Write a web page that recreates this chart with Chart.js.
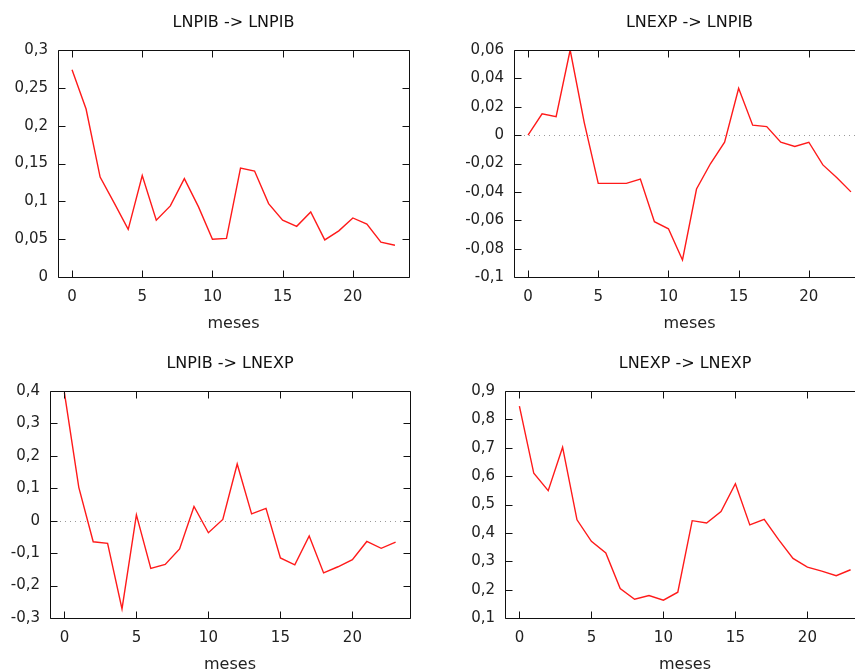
<!DOCTYPE html>
<html>
<head>
<meta charset="utf-8">
<script src="https://cdn.jsdelivr.net/npm/chart.js@4.4.0/dist/chart.umd.min.js"></script>
<style>
  body { margin: 0; width: 855px; height: 670px; overflow: hidden; background: #fff; position: relative; }
  canvas { position: absolute; }
</style>
</head>
<body>
<canvas id="c1" width="430" height="335" style="left:0px;top:0px"></canvas>
<canvas id="c2" width="430" height="335" style="left:456px;top:0px"></canvas>
<canvas id="c3" width="430" height="335" style="left:0px;top:341px"></canvas>
<canvas id="c4" width="438" height="335" style="left:447px;top:341px"></canvas>
<script>
let meses = [0, 1, 2, 3, 4, 5, 6, 7, 8, 9, 10, 11, 12, 13, 14, 15, 16, 17, 18, 19, 20, 21, 22, 23];

let pibPib = [0.274, 0.222, 0.132, 0.098, 0.063, 0.134, 0.075, 0.094, 0.130, 0.093, 0.050, 0.051,
  0.144, 0.140, 0.097, 0.075, 0.067, 0.086, 0.049, 0.061, 0.078, 0.070, 0.046, 0.042];
let expPib = [0.0, 0.015, 0.013, 0.060, 0.009, -0.034, -0.034, -0.034, -0.031, -0.061, -0.066, -0.088,
  -0.038, -0.020, -0.005, 0.033, 0.007, 0.006, -0.005, -0.008, -0.005, -0.021, -0.030, -0.040];
let pibExp = [0.395, 0.103, -0.065, -0.070, -0.272, 0.018, -0.147, -0.135, -0.087, 0.044, -0.037, 0.004,
  0.175, 0.021, 0.038, -0.115, -0.136, -0.047, -0.161, -0.142, -0.120, -0.064, -0.085, -0.066];
let expExp = [0.847, 0.610, 0.549, 0.702, 0.446, 0.370, 0.329, 0.204, 0.166, 0.179, 0.163, 0.191,
  0.443, 0.435, 0.475, 0.573, 0.428, 0.448, 0.376, 0.310, 0.279, 0.265, 0.249, 0.270];

let xTicks = [0, 5, 10, 15, 20];
let ticksPibPib = [0, 0.05, 0.1, 0.15, 0.2, 0.25, 0.3];
let ticksExpPib = [-0.1, -0.08, -0.06, -0.04, -0.02, 0, 0.02, 0.04, 0.06];
let ticksPibExp = [-0.3, -0.2, -0.1, 0, 0.1, 0.2, 0.3, 0.4];
let ticksExpExp = [0.1, 0.2, 0.3, 0.4, 0.5, 0.6, 0.7, 0.8, 0.9];

const fontFam = "'DejaVu Sans', Verdana, sans-serif";
const TICK = 7;

// gnuplot-like frame with inward ticks, plus dotted zero line
let frame = {
  id: "frame",
  beforeDatasetsDraw(chart, args, opts) {
    if (!opts.zero) return;
    const ctx = chart.ctx;
    const a = chart.chartArea;
    const y0 = Math.round(chart.scales.y.getPixelForValue(0)) + 0.5;
    ctx.save();
    ctx.strokeStyle = "#999";
    ctx.lineWidth = 1;
    ctx.setLineDash([1, 4]);
    ctx.beginPath();
    ctx.moveTo(a.left, y0);
    ctx.lineTo(a.right, y0);
    ctx.stroke();
    ctx.restore();
  },
  afterDatasetsDraw(chart) {
    const ctx = chart.ctx;
    const a = chart.chartArea;
    const xs = chart.scales.x;
    const ys = chart.scales.y;
    const l = Math.round(a.left) + 0.5, r = Math.round(a.right) + 0.5;
    const t = Math.round(a.top) + 0.5, b = Math.round(a.bottom) + 0.5;
    ctx.save();
    ctx.strokeStyle = "#111";
    ctx.lineWidth = 1;
    ctx.beginPath();
    ctx.rect(l, t, r - l, b - t);
    xs.ticks.forEach((tk) => {
      const px = Math.round(xs.getPixelForValue(tk.value)) + 0.5;
      ctx.moveTo(px, b); ctx.lineTo(px, b - TICK);
      ctx.moveTo(px, t); ctx.lineTo(px, t + TICK);
    });
    ys.ticks.forEach((tk) => {
      const py = Math.round(ys.getPixelForValue(tk.value)) + 0.5;
      ctx.moveTo(l, py); ctx.lineTo(l + TICK, py);
      ctx.moveTo(r, py); ctx.lineTo(r - TICK, py);
    });
    ctx.stroke();
    ctx.restore();
  },
};

function makeChart(id, values, yTicks, title, yWidth, padRight, zero) {
  let points = meses.map((m, i) => ({ x: m, y: values[i] }));
  new Chart(document.getElementById(id), {
    type: "line",
    data: {
      datasets: [
        {
          data: points,
          borderColor: "#ff1a1a",
          borderWidth: 1.4,
          pointRadius: 0,
          tension: 0,
          fill: false,
        },
      ],
    },
    plugins: [frame],
    options: {
      responsive: false,
      animation: false,
      layout: { padding: { left: 0, right: padRight, top: 0, bottom: 0 } },
      plugins: {
        legend: { display: false },
        tooltip: { enabled: false },
        frame: { zero: zero },
        title: {
          display: true,
          text: title,
          fullSize: false,
          color: "#111",
          font: { family: fontFam, size: 16, weight: "normal", lineHeight: 1.2 },
          padding: { top: 13, bottom: 17.8 },
        },
      },
      scales: {
        x: {
          type: "linear",
          min: -1,
          max: 24,
          grid: { display: false, drawTicks: false },
          border: { display: false },
          afterBuildTicks: (s) => { s.ticks = xTicks.map((v) => ({ value: v })); },
          afterFit: (s) => { s.height = 58; },
          ticks: {
            color: "#222",
            padding: 11,
            maxRotation: 0,
            font: { family: fontFam, size: 15, lineHeight: 1.2 },
          },
          title: {
            display: true,
            text: "meses",
            color: "#222",
            font: { family: fontFam, size: 16, lineHeight: 1.2 },
            padding: { top: 0, bottom: 2 },
          },
        },
        y: {
          type: "linear",
          min: yTicks[0],
          max: yTicks[yTicks.length - 1],
          grid: { display: false, drawTicks: false },
          border: { display: false },
          afterBuildTicks: (s) => { s.ticks = yTicks.map((v) => ({ value: v })); },
          afterFit: (s) => { s.width = yWidth; },
          ticks: {
            color: "#222",
            padding: 10,
            font: { family: fontFam, size: 15, lineHeight: 1.2 },
            callback: (v) => String(v).replace(".", ","),
          },
        },
      },
    },
  });
}

makeChart("c1", pibPib, ticksPibPib, "LNPIB -> LNPIB", 58, 21, false);
makeChart("c2", expPib, ticksExpPib, "LNEXP -> LNPIB", 58, 21, true);
makeChart("c3", pibExp, ticksPibExp, "LNPIB -> LNEXP", 50, 20, true);
makeChart("c4", expExp, ticksExpExp, "LNEXP -> LNEXP", 58, 20, false);
</script>
</body>
</html>
